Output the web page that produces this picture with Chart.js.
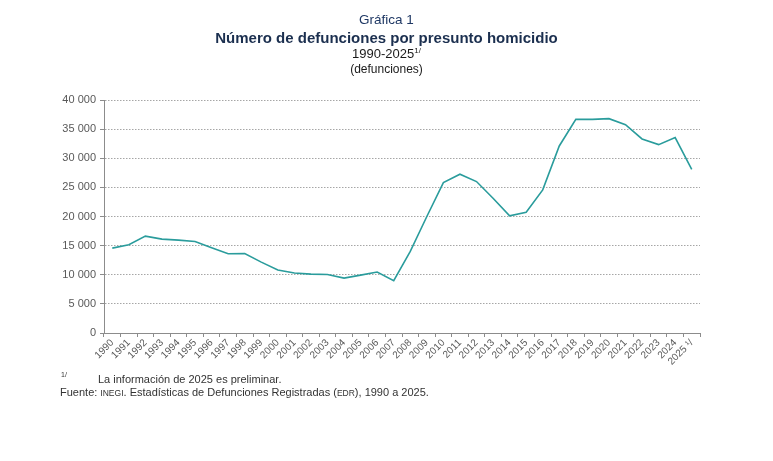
<!DOCTYPE html>
<html lang="es">
<head>
<meta charset="utf-8">
<script src="https://cdn.jsdelivr.net/npm/chart.js@4.4.1/dist/chart.umd.min.js"></script>
<style>
  body { margin: 0; background: #fff; font-family: "Liberation Sans", Arial, sans-serif; }
  #wrap { position: relative; width: 773px; height: 461px; overflow: hidden; }
  #grafica { position: absolute; left: 0; top: 0; }
  .t { position: absolute; left: 0; width: 773px; text-align: center; color: #1a1a1a; white-space: nowrap; }
  .nota { position: absolute; font-size: 11px; color: #333; white-space: nowrap; }
  .sc { font-size: 8.5px; }
</style>
</head>
<body>
<div id="wrap">
  <canvas id="grafica" width="773" height="461"></canvas>
  <div class="t" style="top:12px;font-size:13.5px;color:#1f3864;">Gráfica 1</div>
  <div class="t" style="top:29px;font-size:15px;font-weight:bold;color:#1b2f4f;">Número de defunciones por presunto homicidio</div>
  <div class="t" style="top:46px;font-size:13px;">1990-2025<sup style="font-size:8px;">1/</sup></div>
  <div class="t" style="top:62px;font-size:12px;">(defunciones)</div>
  <div class="nota" style="left:61px;top:371px;font-size:7px;">1/</div>
  <div class="nota" style="left:98px;top:373px;">La información de 2025 es preliminar.</div>
  <div class="nota" style="left:60px;top:386px;">Fuente: <span class="sc">INEGI</span>. Estadísticas de Defunciones Registradas (<span class="sc">EDR</span>), 1990 a 2025.</div>
</div>
<script>
// datos
const anios = ['1990', '1991', '1992', '1993', '1994', '1995', '1996', '1997', '1998', '1999',
    '2000', '2001', '2002', '2003', '2004', '2005', '2006', '2007', '2008', '2009',
    '2010', '2011', '2012', '2013', '2014', '2015', '2016', '2017', '2018', '2019',
    '2020', '2021', '2022', '2023', '2024', '2025 ¹/'];
const defunciones = [14570, 15140, 16630, 16110, 15940, 15700, 14620, 13600, 13650, 12170,
    10800, 10290, 10100, 10050, 9430, 9940, 10460, 8970, 14000, 20000,
    25820, 27260, 26000, 23140, 20110, 20740, 24570, 32110, 36680, 36680,
    36800, 35770, 33310, 32340, 33540, 28110];
const yTicks = [0, 5000, 10000, 15000, 20000, 25000, 30000, 35000, 40000];

const ctx = document.getElementById('grafica');
const myChart = new Chart(ctx, {
    type: 'line',
    data: {
        labels: anios,
        datasets: [{
            label: 'Defunciones',
            data: defunciones,
            borderColor: '#2a9c9c',
            borderWidth: 1.6,
            pointRadius: 0,
            tension: 0,
            fill: false
        }]
    },
    options: {
        responsive: false,
        animation: false,
        layout: { padding: { left: 0, right: 73, top: 100, bottom: 86 } },
        plugins: {
            legend: { display: false },
            tooltip: { enabled: false }
        },
        scales: {
            x: {
                offset: true,
                grid: {
                    offset: true,
                    drawOnChartArea: false,
                    drawTicks: true,
                    tickLength: 4,
                    color: '#8c8c8c'
                },
                border: { color: '#8c8c8c', width: 1 },
                ticks: {
                    autoSkip: false,
                    minRotation: 45,
                    maxRotation: 45,
                    padding: 0,
                    color: '#595959',
                    font: { family: 'Liberation Sans', size: 10 }
                },
                afterFit: function (s) { s.height = 42; s.paddingLeft = 0; s.paddingRight = 0; }
            },
            y: {
                min: 0,
                max: 40000,
                afterBuildTicks: function (s) { s.ticks = yTicks.map(v => ({ value: v })); },
                grid: {
                    color: '#a6a6a6',
                    lineWidth: 1,
                    tickLength: 4,
                    tickColor: '#8c8c8c',
                    drawTicks: true
                },
                border: { display: true, color: '#8c8c8c', width: 1, dash: [1.5, 1.5] },
                ticks: {
                    padding: 4,
                    color: '#595959',
                    font: { family: 'Liberation Sans', size: 11 },
                    callback: function (v) { return String(v).replace(/\B(?=(\d{3})+(?!\d))/g, ' '); }
                },
                afterFit: function (s) { s.width = 104; }
            }
        }
    }
});
</script>
</body>
</html>
